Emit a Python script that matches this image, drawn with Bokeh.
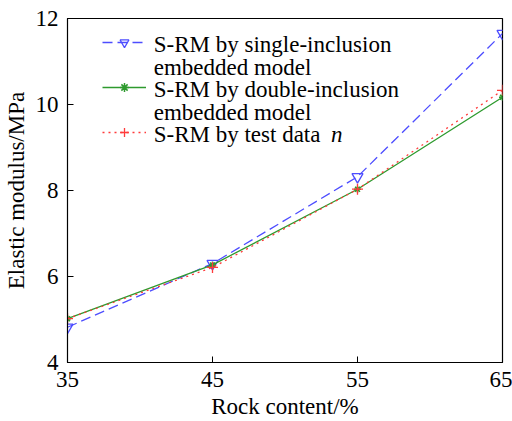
from bokeh.plotting import figure
from bokeh.models import Legend, LegendItem, Range1d, FixedTicker, Label
from bokeh.embed import file_html
from bokeh.resources import INLINE

rock = [35, 45, 55, 65]
single = [4.82, 6.3, 8.32, 11.65]
double = [5.02, 6.27, 8.03, 10.17]
test = [5.02, 6.21, 8.03, 10.33]
x_ticks = [35, 45, 55, 65]
y_ticks = [4, 6, 8, 10, 12]
legend_lines = ["S-RM by single-inclusion", "embedded model",
                "S-RM by double-inclusion", "embedded model",
                "S-RM by test data"]
legend_italic = "n"

FONT = "Liberation Serif"
FS = "23px"

p = figure(width=512, height=421, output_backend="svg", toolbar_location=None,
           x_range=Range1d(35, 65), y_range=Range1d(4, 12),
           min_border_left=63, min_border_right=10, min_border_top=18, min_border_bottom=57)
p.background_fill_color = "white"
p.border_fill_color = "white"
p.outline_line_color = "black"
p.outline_line_width = 1.2
p.grid.visible = False

for ax in (p.xaxis[0], p.yaxis[0]):
    ax.major_tick_in = 6
    ax.major_tick_out = 0
    ax.minor_tick_line_color = None
    ax.axis_line_color = "black"
    ax.major_label_text_font = FONT
    ax.major_label_text_font_size = FS
    ax.axis_label_text_font = FONT
    ax.axis_label_text_font_size = FS
    ax.axis_label_text_font_style = "normal"
    ax.major_label_text_color = "black"
    ax.axis_label_text_color = "black"
p.xaxis.ticker = FixedTicker(ticks=x_ticks)
p.yaxis.ticker = FixedTicker(ticks=y_ticks)
p.xaxis.axis_label = "Rock content/%"
p.yaxis.axis_label = "Elastic modulus/MPa"
p.xaxis.major_label_standoff = 9
p.yaxis.major_label_standoff = 9
p.xaxis.axis_label_standoff = 4
p.yaxis.axis_label_standoff = 4

blue = "#4d4dff"
green = "#2e9a2e"
red = "#ff3b3b"

l1 = p.line(rock, single, line_color=blue, line_dash="10 5", line_width=1.3)
m1 = p.scatter(rock, single, marker="inverted_triangle", size=11, fill_color=None, line_color=blue, line_width=1.3)
l2 = p.line(rock, double, line_color=green, line_width=1.3)
m2 = p.scatter(rock, double, marker="asterisk", size=7, line_color=green, line_width=1.5)
l3 = p.line(rock, test, line_color=red, line_dash="2 4", line_width=1.3)
m3 = p.scatter(rock, test, marker="cross", size=11, line_color=red, line_width=1.3)

# legend glyph samples; its text is drawn with labels below
legend = Legend(items=[
    LegendItem(label=" ", renderers=[l1, m1]),
    LegendItem(label="  ", renderers=[l2, m2]),
    LegendItem(label="   ", renderers=[l3, m3]),
], location=(35, 219))
legend.label_text_font_size = "1px"
legend.label_height = 22
legend.glyph_height = 22
legend.border_line_color = None
legend.background_fill_alpha = 0
legend.glyph_width = 44
legend.spacing = 23
legend.padding = 0
legend.margin = 0
legend.label_standoff = 0
legend.label_width = 0
p.add_layout(legend)

# legend text (px below the frame top / right of the frame left; frame is 439 x 346 px)
def to_x(px):
    return 35 + px * 30 / 439

def to_y(py):
    return 12 - py * 8 / 346

baselines = [26.3, 49, 71.7, 94.4, 117]
for txt, b in zip(legend_lines, baselines):
    p.add_layout(Label(x=to_x(87), y=to_y(b), text=txt, text_font=FONT, text_font_size=FS,
                       text_baseline="alphabetic", text_color="black"))
p.add_layout(Label(x=to_x(266), y=to_y(baselines[-1]), text=legend_italic, text_font=FONT,
                   text_font_size=FS, text_font_style="italic",
                   text_baseline="alphabetic", text_color="black"))

open("out.html", "w").write(file_html(p, INLINE))
